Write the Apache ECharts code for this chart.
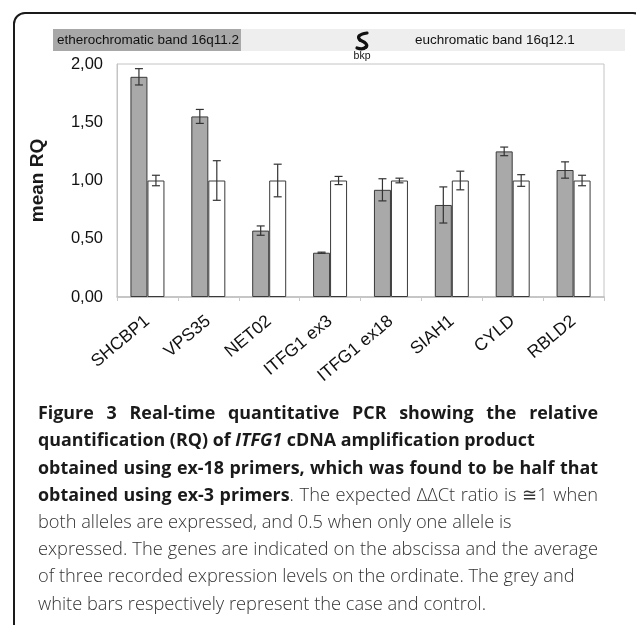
<!DOCTYPE html>
<html>
<head>
<meta charset="utf-8">
<script src="https://cdn.jsdelivr.net/npm/echarts@6/dist/echarts.min.js"></script>
<style>
html,body{margin:0;padding:0;background:#fff;}
#chart{width:636px;height:625px;}
</style>
</head>
<body>
<div id="chart"></div>
<script>
// ---- data ----
var categories = ['SHCBP1', 'VPS35', 'NET02', 'ITFG1 ex3', 'ITFG1 ex18', 'SIAH1', 'CYLD', 'RBLD2'];
var caseMean = [1.89, 1.55, 0.57, 0.38, 0.92, 0.79, 1.25, 1.09];
var caseErr = [0.07, 0.06, 0.04, 0.005, 0.095, 0.155, 0.037, 0.07];
var controlMean = [1.00, 1.00, 1.00, 1.00, 1.00, 1.00, 1.00, 1.00];
var controlErr = [0.045, 0.17, 0.14, 0.035, 0.02, 0.08, 0.05, 0.045];
var yTicks = [0, 0.5, 1, 1.5, 2];
var bandLeftText = 'etherochromatic band 16q11.2';
var bandRightText = 'euchromatic band 16q12.1';
var bkpText = 'bkp';
var yName = 'mean RQ';
// caption lines: segments [text, style] ; style: b bold, bi bold italic, r regular
var captionLines = [
  {j: true, segs: [['Figure 3 Real-time quantitative PCR showing the relative', 'b']]},
  {j: false, segs: [['quantification (RQ) of ', 'b'], ['ITFG1', 'bi'], [' cDNA amplification product', 'b']]},
  {j: true, segs: [['obtained using ex-18 primers, which was found to be half that', 'b']]},
  {j: true, segs: [['obtained using ex-3 primers', 'b'], ['. The expected \u0394\u0394Ct ratio is \u22451 when', 'r']]},
  {j: false, segs: [['both alleles are expressed, and 0.5 when only one allele is', 'r']]},
  {j: true, segs: [['expressed. The genes are indicated on the abscissa and the average', 'r']]},
  {j: false, segs: [['of three recorded expression levels on the ordinate. The grey and', 'r']]},
  {j: false, segs: [['white bars respectively represent the case and control.', 'r']]}
];

// ---- layout helpers ----
var BAR_W = 17;
var FONT_FAMILY = '"Open Sans", "Noto Sans", sans-serif';
var canvas = document.createElement('canvas');
var ctx = canvas.getContext('2d');
function fontStr(style, size) {
  var w = (style === 'r') ? '300' : 'bold';
  var it = (style === 'bi') ? 'italic ' : '';
  return it + w + ' ' + size.toFixed(2) + 'px ' + FONT_FAMILY;
}
function measure(text, style, size) {
  ctx.font = fontStr(style, size);
  return ctx.measureText(text).width;
}
function lineWidth(segs, size) {
  var w = 0;
  segs.forEach(function (s) { w += measure(s[0], s[1], size); });
  return w;
}
var X0 = 38, X1 = 598;
var boldSize = 552 / lineWidth(captionLines[2].segs, 100) * 100;
var regSize = 537 / lineWidth(captionLines[6].segs, 100) * 100;

var graphics = [];
graphics.push({type: 'rect', shape: {x: 14, y: 13, width: 630, height: 700, r: 11},
  style: {fill: 'none', stroke: '#1a1a1a', lineWidth: 2}, silent: true});
graphics.push({type: 'rect', shape: {x: 241, y: 29, width: 384, height: 22}, style: {fill: '#eeeeee'}});
graphics.push({type: 'rect', shape: {x: 53, y: 29, width: 188, height: 22}, style: {fill: '#a8a8a8'}});
graphics.push({type: 'text', x: 57, y: 40, style: {text: bandLeftText, fill: '#111', font: '13.5px "Liberation Sans", Arial, sans-serif', textVerticalAlign: 'middle'}});
graphics.push({type: 'text', x: 415, y: 40, style: {text: bandRightText, fill: '#111', font: '13.5px "Liberation Sans", Arial, sans-serif', textVerticalAlign: 'middle'}});
var sq = {fill: 'none', stroke: '#111', lineWidth: 3.2, lineCap: 'round'};
graphics.push({type: 'bezierCurve', shape: {x1: 367, y1: 33, cpx1: 355, cpy1: 35, x2: 360, y2: 40}, style: sq});
graphics.push({type: 'bezierCurve', shape: {x1: 360, y1: 40, cpx1: 369, cpy1: 44, x2: 366, y2: 47}, style: sq});
graphics.push({type: 'bezierCurve', shape: {x1: 366, y1: 47, cpx1: 363, cpy1: 50, x2: 357, y2: 48}, style: sq});
graphics.push({type: 'text', x: 362, y: 56, style: {text: bkpText, fill: '#111', font: '10.5px "Liberation Sans", Arial, sans-serif', textAlign: 'center', textVerticalAlign: 'middle'}});

captionLines.forEach(function (line, li) {
  var y = 414 + li * 27.2;
  var words = [];
  var prevTrailingSpace = true;
  line.segs.forEach(function (s) {
    var parts = s[0].split(' ');
    parts.forEach(function (p, pi) {
      if (p === '') { return; }
      var attach = words.length > 0 && pi === 0 && !prevTrailingSpace;
      words.push({t: p, st: s[1], attach: attach});
    });
    prevTrailingSpace = s[0][s[0].length - 1] === ' ';
  });
  var sizeOf = function (st) { return st === 'r' ? regSize : boldSize; };
  var totalW = 0, gaps = 0;
  words.forEach(function (w, i) {
    w.w = measure(w.t, w.st, sizeOf(w.st));
    totalW += w.w;
    if (i > 0 && !w.attach) gaps++;
  });
  var naturalSpace = measure(' ', words[0].st, sizeOf(words[0].st));
  var gapW = line.j ? (X1 - X0 - totalW) / gaps : naturalSpace;
  var x = X0;
  words.forEach(function (w, i) {
    if (i > 0 && !w.attach) x += gapW;
    graphics.push({type: 'text', x: x, y: y, silent: true,
      style: {text: w.t, font: fontStr(w.st, sizeOf(w.st)), fill: w.st === 'r' ? '#333' : '#1a1a1a', textVerticalAlign: 'middle'}});
    x += w.w;
  });
});

function errRender(offsetSign, errArr) {
  return function (params, api) {
    var idx = api.value(0);
    var m = api.value(1);
    var e = errArr[idx];
    var c = api.coord([idx, m]);
    var cx = c[0] + offsetSign * BAR_W / 2;
    var top = api.coord([idx, m + e])[1];
    var bot = api.coord([idx, m - e])[1];
    var st = {stroke: '#333', lineWidth: 1.2};
    return {type: 'group', children: [
      {type: 'line', shape: {x1: cx, y1: top, x2: cx, y2: bot}, style: st},
      {type: 'line', shape: {x1: cx - 4, y1: top, x2: cx + 4, y2: top}, style: st},
      {type: 'line', shape: {x1: cx - 4, y1: bot, x2: cx + 4, y2: bot}, style: st}
    ]};
  };
}

var chart = echarts.init(document.getElementById('chart'), null, {renderer: 'canvas'});
chart.setOption({
  animation: false,
  backgroundColor: '#fff',
  grid: {left: 117, top: 64, right: 32, bottom: 328, show: true, borderColor: '#c4c4c4', borderWidth: 1},
  xAxis: {
    type: 'category', data: categories,
    axisLine: {show: true, lineStyle: {color: '#bdbdbd', width: 1.5}},
    axisTick: {show: true, length: 4, lineStyle: {color: '#c8c8c8'}},
    axisLabel: {rotate: 40, fontSize: 17.5, color: '#111', margin: 22, fontFamily: '"Liberation Sans", Arial, sans-serif', interval: 0}
  },
  yAxis: {
    type: 'value', min: yTicks[0], max: yTicks[yTicks.length - 1], interval: yTicks[1] - yTicks[0],
    name: yName, nameLocation: 'middle', nameRotate: 90, nameGap: 70,
    nameTextStyle: {fontSize: 19, fontWeight: 'bold', color: '#1a1a1a', fontFamily: '"Liberation Sans", Arial, sans-serif'},
    axisLine: {show: true, lineStyle: {color: '#c4c4c4'}},
    axisTick: {show: false},
    splitLine: {show: false},
    axisLabel: {fontSize: 16.5, color: '#111', margin: 14, fontFamily: '"Liberation Sans", Arial, sans-serif',
      formatter: function (v) { return v.toFixed(2).replace('.', ','); }}
  },
  series: [
    {type: 'bar', name: 'case', data: caseMean, barWidth: BAR_W, barGap: '0%',
      itemStyle: {color: '#a9a9a9', borderColor: '#3a3a3a', borderWidth: 1}},
    {type: 'bar', name: 'control', data: controlMean, barWidth: BAR_W, barGap: '0%',
      itemStyle: {color: '#ffffff', borderColor: '#3a3a3a', borderWidth: 1}},
    {type: 'custom', data: caseMean.map(function (v, i) { return [i, v]; }), renderItem: errRender(-1, caseErr), z: 5},
    {type: 'custom', data: controlMean.map(function (v, i) { return [i, v]; }), renderItem: errRender(1, controlErr), z: 5}
  ],
  graphic: graphics
});
</script>
</body>
</html>
